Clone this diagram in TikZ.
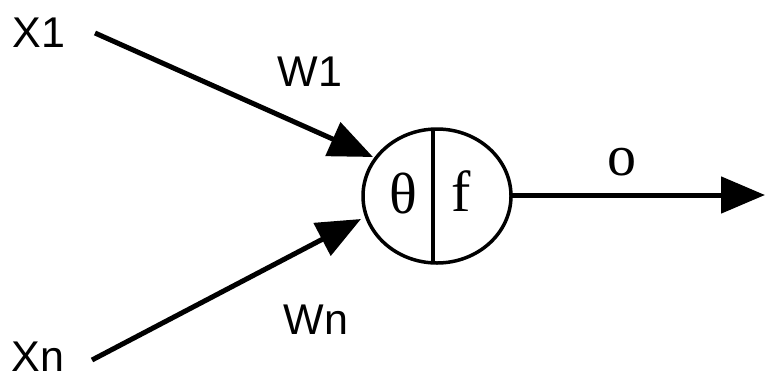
\documentclass[tikz,border=0pt]{standalone}
\usepackage{fontspec}
\setmainfont{Liberation Serif}
\newfontfamily\labelsans{Liberation Sans}
\usetikzlibrary{arrows.meta}
\begin{document}
\begin{tikzpicture}[x=1pt,y=-1pt,
  inlabel/.style={font=\labelsans\fontsize{43}{43}\selectfont, inner sep=0pt, anchor=center},
  unitlabel/.style={font=\fontsize{58}{58}\selectfont, inner sep=0pt, anchor=center},
  wire/.style={line width=5pt, -{Triangle[length=44pt,width=36pt]}},
  body/.style={line width=3.5pt}]
  \useasboundingbox (0,0) rectangle (765,381);

  % neuron body: ellipse split by a vertical bar
  \draw[body] (437,196) ellipse [x radius=74, y radius=67];
  \coordinate (top) at (433,129);
  \coordinate (bot) at (433,263);
  \draw[body] (top) -- (bot);
  \node[unitlabel] (theta) at (403,193) {θ};
  \node[unitlabel] (f) at (461,191) {f};

  % inputs and weights
  \node[inlabel] (x1) at (39,33) {X1};
  \node[inlabel] (xn) at (38,357) {Xn};
  \node[inlabel] (w1) at (310,72) {W1};
  \node[inlabel] (wn) at (316,320) {Wn};

  \coordinate (s1) at (95,33);
  \coordinate (t1) at (373,157);
  \coordinate (sn) at (92,360);
  \coordinate (tn) at (361,219);
  \draw[wire] (s1) -- (t1);
  \draw[wire] (sn) -- (tn);

  % output
  \coordinate (out0) at (511,195);
  \coordinate (out1) at (765,195);
  \draw[wire] (out0) -- (out1);
  \node[unitlabel] (o) at (622,162) {o};
\end{tikzpicture}
\end{document}
